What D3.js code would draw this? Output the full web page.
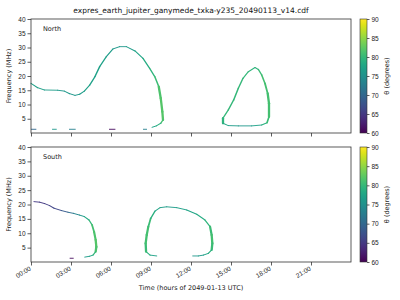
<!DOCTYPE html>
<html>
<head>
<meta charset="utf-8">
<style>
  body { margin: 0; background: #fff; }
  svg { display: block; font-family: "DejaVu Sans", sans-serif; }
  .axis text { font-size: 6.5px; fill: #222; }
  .axis line, .axis path { stroke: #333; stroke-width: 0.8; }
</style>
</head>
<body>
<svg width="400" height="300"></svg>
<script src="https://d3js.org/d3.v7.min.js"></script>
<script>
// [hour, MHz, theta]
const northArc = [[0.0,17.4,77],[0.5,15.9,77],[1.0,15.1,77],[2.0,15.0,76],[2.5,14.7,76],[2.9,13.8,76],[3.3,13.2,76],
  [3.65,13.6,76],[4.0,14.7,77],[4.4,16.8,77],[4.8,19.8,77],[5.15,23.3,77],[5.65,26.8,77],[6.15,29.5,76],[6.65,30.3,76],
  [7.15,30.3,76],[7.8,28.8,77],[8.4,26.2,78],[8.9,22.7,79],[9.28,19.8,80],[9.58,16.3,81],[9.73,12.2,82],[9.85,7.5,82],
  [9.9,4.6,82],[9.73,3.4,80],[9.4,2.5,78],[9.08,2.0,77]];
const northLoop = [[16.8,23.0,79],[16.3,21.5,80],[15.9,19.2,80],[15.55,15.7,80],[15.2,11.6,80],[14.8,8.1,80],[14.4,5.2,80],
  [14.4,3.4,79],[14.8,2.6,77],[15.55,2.5,76],[16.55,2.5,76],[17.3,2.8,78],[17.7,3.6,80],[17.85,5.7,81],[17.85,10.4,81],
  [17.75,13.9,81],[17.55,17.4,81],[17.3,20.4,81],[17.05,22.3,80],[16.8,23.0,79]];
// [start hour, end hour, MHz, theta]
const northBlips = [[0,0.4,1.3,70],[1.58,1.93,1.3,76],[2.85,3.35,1.3,73],[5.85,6.33,1.3,61],[8.4,8.7,1.3,73]];

const southArc = [[0.22,21.0,65],[0.65,20.8,65],[1.03,20.3,65],[1.4,19.6,66],[1.73,18.7,66],[2.28,17.9,67],[2.78,17.3,70],
  [3.2,16.9,72],[3.65,16.3,75],[4.0,15.8,77],[4.35,14.6,79],[4.58,12.9,81],[4.73,10.5,81],[4.85,7.7,82],[4.9,5.3,82],
  [4.85,3.6,81],[4.65,2.4,79],[4.4,2.0,77],[4.03,1.7,76]];
const southLoop = [[9.43,2.1,76],[8.93,2.4,78],[8.63,3.6,80],[8.6,6.5,81],[8.68,9.4,81],[8.8,12.3,81],[8.98,15.2,80],
  [9.3,17.7,78],[9.68,18.9,77],[10.18,19.2,76],[10.93,18.9,77],[11.68,18.1,77],[12.43,16.6,78],[13.05,14.6,79],
  [13.43,12.3,80],[13.55,9.4,81],[13.6,6.5,81],[13.55,4.2,80],[13.3,3.0,78],[12.93,2.4,77],[12.55,2.1,76],[12.13,2.1,76]];
const southBlips = [[2.9,3.2,1.3,61]];

const freqTicks = [5,10,15,20,25,30,35,40];
const thetaTicks = [60,65,70,75,80,85,90];
const hourTicks = [0,3,6,9,12,15,18,21];

const svg = d3.select("svg");
const day = Date.UTC(2049,0,13);
const toDate = h => new Date(day + h*3600e3);

const x = d3.scaleUtc().domain([toDate(0), toDate(24)]).range([31, 351]);
const color = d3.scaleSequential(d3.interpolateViridis).domain([60, 90]);

const panels = [
  {name: "North", top: 19, bottom: 133, tracks: [northArc, northLoop], blips: northBlips, labels: false},
  {name: "South", top: 147, bottom: 262, tracks: [southArc, southLoop], blips: southBlips, labels: true}
];

// colour gradient
const grad = svg.append("defs").append("linearGradient")
  .attr("id", "viridis").attr("x1", 0).attr("x2", 0).attr("y1", 1).attr("y2", 0);
d3.range(0, 1.0001, 0.05).forEach(s => {
  grad.append("stop").attr("offset", s).attr("stop-color", d3.interpolateViridis(s));
});

svg.append("text").attr("x", 191).attr("y", 13).attr("text-anchor", "middle")
  .style("font-size", "7.5px").attr("fill", "#111")
  .text("expres_earth_jupiter_ganymede_txka-y235_20490113_v14.cdf");

panels.forEach(p => {
  const y = d3.scaleLinear().domain([0, 40]).range([p.bottom, p.top]);
  const g = svg.append("g");

  // tracks: thin where the drift is slow, thicker where it is steep
  p.tracks.forEach(track => {
    for (let i = 1; i < track.length; i++) {
      const a = track[i-1], b = track[i];
      const x1 = x(toDate(a[0])), y1 = y(a[1]), x2 = x(toDate(b[0])), y2 = y(b[1]);
      const slope = Math.abs(y2 - y1) / Math.max(0.3, Math.abs(x2 - x1));
      g.append("line")
        .attr("x1", x1).attr("y1", y1).attr("x2", x2).attr("y2", y2)
        .attr("stroke", color((a[2] + b[2]) / 2))
        .attr("stroke-width", 0.9 + Math.min(1.4, slope / 4))
        .attr("stroke-linecap", "round");
    }
  });
  g.selectAll(".blip").data(p.blips).join("line")
    .attr("x1", d => x(toDate(d[0]))).attr("x2", d => x(toDate(d[1])))
    .attr("y1", d => y(d[2])).attr("y2", d => y(d[2]))
    .attr("stroke", d => color(d[3])).attr("stroke-width", 0.9);

  // frame
  svg.append("rect").attr("x", 31).attr("y", p.top).attr("width", 320).attr("height", p.bottom - p.top)
    .attr("fill", "none").attr("stroke", "#333").attr("stroke-width", 0.8);

  svg.append("g").attr("class", "axis")
    .attr("transform", "translate(31,0)")
    .call(d3.axisLeft(y).tickValues(freqTicks).tickSize(3.5).tickPadding(2))
    .call(s => s.select(".domain").remove());

  const xa = svg.append("g").attr("class", "axis")
    .attr("transform", `translate(0,${p.bottom})`)
    .call(d3.axisBottom(x).tickValues(hourTicks.map(toDate)).tickSize(3.5)
      .tickFormat(p.labels ? d3.utcFormat("%H:%M") : ""))
    .call(s => s.select(".domain").remove());
  if (p.labels) {
    xa.selectAll(".tick text")
      .attr("text-anchor", "end").attr("dy", null).attr("y", 0)
      .attr("transform", "translate(0,8) rotate(-30)");
  }

  svg.append("text").attr("transform", `translate(11,${(p.top + p.bottom) / 2}) rotate(-90)`)
    .attr("text-anchor", "middle").style("font-size", "6.5px").attr("fill", "#222")
    .text("Frequency (MHz)");
  svg.append("text").attr("x", 43).attr("y", p.top + 12)
    .style("font-size", "6.5px").attr("fill", "#222").text(p.name);

  // colour bar
  const cy = d3.scaleLinear().domain([60, 90]).range([p.bottom, p.top]);
  svg.append("rect").attr("x", 360).attr("y", p.top).attr("width", 7).attr("height", p.bottom - p.top)
    .attr("fill", "url(#viridis)").attr("stroke", "#333").attr("stroke-width", 0.6);
  svg.append("g").attr("class", "axis")
    .attr("transform", "translate(367,0)")
    .call(d3.axisRight(cy).tickValues(thetaTicks).tickSize(2.5).tickPadding(2))
    .call(s => s.select(".domain").remove());
  svg.append("text").attr("transform", `translate(389,${(p.top + p.bottom) / 2}) rotate(-90)`)
    .attr("text-anchor", "middle").style("font-size", "6.5px").attr("fill", "#222")
    .text("θ (degrees)");
});

svg.append("text").attr("x", 191).attr("y", 290).attr("text-anchor", "middle")
  .style("font-size", "6.5px").attr("fill", "#222")
  .text("Time (hours of 2049-01-13 UTC)");
</script>
</body>
</html>
